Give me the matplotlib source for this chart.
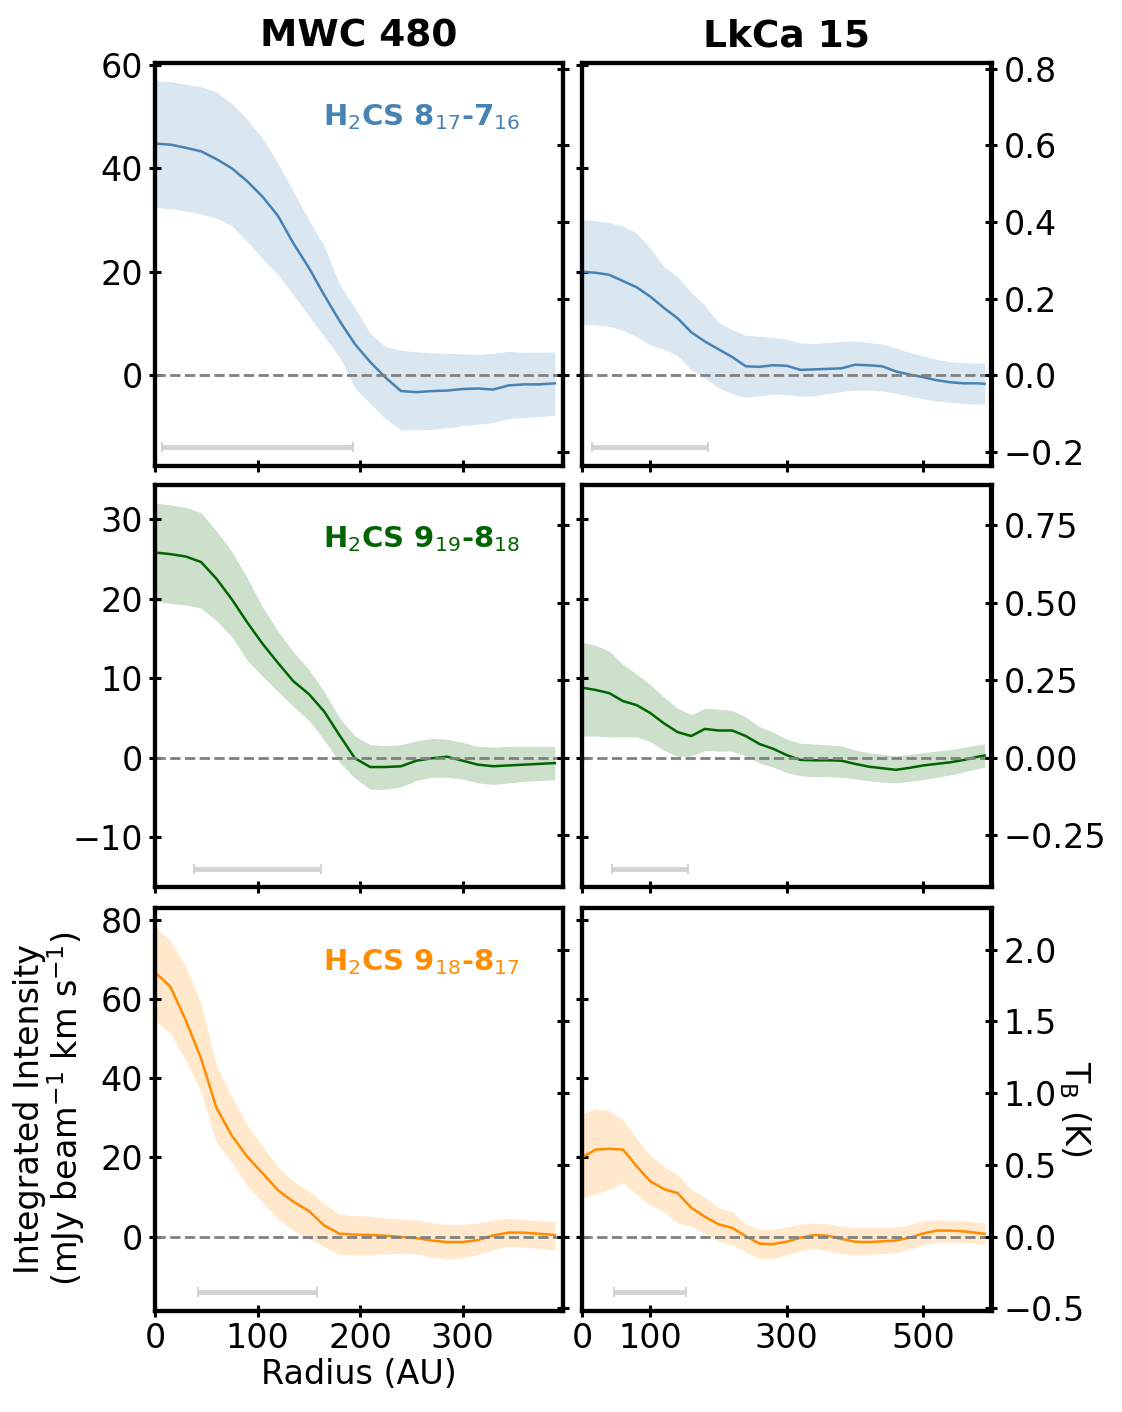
import matplotlib
matplotlib.use('agg')
import matplotlib.pyplot as plt

matplotlib.rc('font', size=24)
matplotlib.rc('xtick', labelsize=24)
matplotlib.rc('ytick', labelsize=24)

# Radius grids (AU)
r_mwc = [0, 15, 30, 45, 60, 75, 90, 105, 120, 135, 150, 165, 180, 195, 210,
         225, 240, 255, 270, 285, 300, 315, 330, 345, 360, 375, 390]
r_lkca = [0, 20, 40, 60, 80, 100, 120, 140, 160, 180, 200, 220, 240, 260, 280,
          300, 320, 340, 360, 380, 400, 420, 440, 460, 480, 500, 520, 540, 560,
          580, 590]

# H2CS 8_17-7_16
mwc_a_mean = [44.8, 44.6, 44.0, 43.3, 41.8, 40.0, 37.5, 34.5, 30.8, 25.5, 20.8, 15.5, 10.5, 6.0,
              2.5, -0.5, -3.1, -3.3, -3.1, -3.0, -2.7, -2.6, -2.8, -2.0, -1.8, -1.8, -1.6]
mwc_a_lo = [32.5, 32.2, 31.8, 31.2, 30.4, 28.9, 25.8, 22.5, 19.5, 15.5, 11.5, 7.5, 3.5, -2.5,
            -5.5, -8.5, -10.6, -10.6, -10.5, -10.2, -9.8, -9.5, -9.2, -8.4, -8.2, -8.0, -7.8]
mwc_a_hi = [57.0, 56.8, 56.3, 55.8, 54.8, 52.5, 49.5, 45.8, 41.0, 35.5, 30.0, 25.0, 17.5, 13.0,
            8.0, 5.5, 4.8, 4.5, 4.3, 4.2, 4.1, 4.0, 4.2, 4.6, 4.4, 4.4, 4.5]
lkca_a_mean = [20.0, 19.8, 19.4, 18.2, 17.0, 15.2, 13.0, 11.0, 8.3, 6.5, 5.0, 3.5, 1.7, 1.6, 1.9,
               1.8, 1.0, 1.1, 1.2, 1.3, 2.0, 1.9, 1.7, 0.7, 0.1, -0.4, -1.0, -1.4, -1.6, -1.6, -1.7]
lkca_a_lo = [9.8, 9.7, 9.4, 8.7, 7.4, 5.8, 5.0, 3.8, 1.0, -0.5, -2.5, -3.6, -4.3, -4.0, -3.7,
             -3.8, -4.1, -4.0, -3.6, -3.2, -2.9, -2.9, -3.1, -3.5, -4.1, -4.6, -5.0, -5.3, -5.5,
             -5.6, -5.6]
lkca_a_hi = [30.1, 29.9, 29.5, 28.8, 27.5, 24.5, 21.0, 19.0, 16.0, 13.5, 10.2, 8.8, 7.7, 7.5, 7.3,
             6.9, 6.2, 6.1, 6.3, 6.5, 6.6, 6.3, 6.0, 5.2, 4.4, 3.7, 3.0, 2.6, 2.4, 2.3, 2.3]

# H2CS 9_19-8_18
mwc_b_mean = [25.8, 25.6, 25.3, 24.6, 22.5, 19.9, 17.0, 14.3, 11.9, 9.6, 8.0, 5.8, 2.8, -0.1,
              -1.2, -1.2, -1.1, -0.4, -0.1, 0.1, -0.4, -0.9, -1.1, -1.0, -0.9, -0.8, -0.7]
mwc_b_lo = [19.7, 19.4, 19.2, 18.8, 17.2, 15.2, 12.2, 10.2, 8.3, 6.4, 4.7, 2.2, -0.6, -2.6,
            -4.0, -4.0, -3.7, -2.9, -2.5, -2.5, -2.7, -3.2, -3.4, -3.2, -3.0, -2.9, -2.8]
mwc_b_hi = [32.0, 31.8, 31.5, 30.8, 28.5, 25.9, 22.6, 18.9, 15.9, 13.3, 11.1, 8.3, 5.0, 2.7,
            1.6, 1.5, 1.6, 2.1, 2.4, 2.3, 1.9, 1.4, 1.3, 1.4, 1.4, 1.4, 1.4]
lkca_b_mean = [8.8, 8.5, 8.1, 7.1, 6.6, 5.6, 4.3, 3.2, 2.7, 3.6, 3.4, 3.4, 2.7, 1.7, 1.1, 0.3,
               -0.3, -0.35, -0.35, -0.4, -0.8, -1.15, -1.35, -1.55, -1.3, -1.0, -0.8, -0.6, -0.3,
               0.1, 0.25]
lkca_b_lo = [2.7, 2.7, 2.6, 2.6, 2.6, 2.0, 0.9, 0.1, 0.2, 0.9, 0.8, 0.8, 0.2, -0.7, -1.2, -1.9,
             -2.3, -2.4, -2.4, -2.5, -2.7, -2.9, -3.1, -3.2, -3.0, -2.8, -2.5, -2.2, -1.8, -1.4,
             -1.2]
lkca_b_hi = [14.5, 14.1, 13.4, 11.7, 10.5, 9.2, 7.6, 6.2, 5.4, 6.2, 6.1, 5.9, 5.1, 3.9, 3.2, 2.3,
             1.8, 1.7, 1.6, 1.45, 0.95, 0.6, 0.4, 0.2, 0.4, 0.6, 0.8, 1.0, 1.3, 1.6, 1.7]

# H2CS 9_18-8_17
mwc_c_mean = [66.8, 63.2, 54.7, 45.0, 32.5, 25.5, 20.2, 16.0, 11.7, 8.8, 6.5, 2.8, 0.7, 0.5,
              0.4, 0.2, -0.1, -0.4, -1.0, -1.4, -1.4, -0.9, 0.3, 1.0, 1.0, 0.7, 0.4]
mwc_c_lo = [54.6, 51.5, 44.5, 36.5, 23.8, 18.8, 12.8, 8.7, 4.5, 1.5, -0.5, -2.6, -4.5, -4.6,
            -4.6, -4.4, -4.2, -4.4, -5.2, -5.7, -5.4, -4.6, -3.2, -2.5, -2.7, -3.0, -3.4]
mwc_c_hi = [78.4, 74.8, 68.2, 58.8, 43.2, 35.2, 28.2, 22.8, 17.5, 14.0, 11.5, 8.3, 5.6, 5.3,
            5.1, 4.7, 4.4, 4.2, 3.5, 3.0, 3.1, 3.4, 4.2, 4.6, 4.3, 4.0, 3.8]
lkca_c_mean = [20.0, 22.0, 22.2, 22.0, 17.8, 14.0, 12.0, 11.0, 7.3, 5.0, 3.1, 2.2, 0.1, -1.8,
               -1.9, -1.3, -0.3, 0.4, 0.2, -0.6, -1.3, -1.4, -1.2, -1.0, -0.3, 0.8, 1.5, 1.5,
               1.3, 0.9, 0.7]
lkca_c_lo = [9.8, 10.7, 11.9, 13.5, 10.7, 8.0, 6.4, 3.4, 2.6, 0.8, -1.2, -2.0, -4.0, -5.6, -5.6,
             -4.6, -3.6, -3.0, -3.6, -4.3, -4.6, -4.5, -4.3, -4.1, -3.2, -2.0, -1.4, -1.4, -1.5,
             -1.8, -1.9]
lkca_c_hi = [31.0, 32.3, 31.8, 29.5, 24.8, 20.5, 17.7, 15.6, 11.9, 10.0, 7.3, 6.3, 3.1, 1.8, 1.8,
             2.4, 3.2, 3.4, 3.2, 2.6, 2.3, 2.3, 2.3, 2.3, 3.0, 4.0, 4.2, 4.1, 3.9, 3.6, 3.4]

# Per-row settings
line_labels = [r'H$_2$CS 8$_{17}$-7$_{16}$', r'H$_2$CS 9$_{19}$-8$_{18}$', r'H$_2$CS 9$_{18}$-8$_{17}$']
colors = ['#4682b4', '#006400', '#ff8c00']
ylims = [(-17.6, 60.4), (-16.3, 34.3), (-18.7, 83.1)]
yticks = [[0, 20, 40, 60], [-10, 0, 10, 20, 30], [0, 20, 40, 60, 80]]
k_factor = [0.0135, 0.02565, 0.02755]  # mJy/beam km/s -> K
k_ticks = [[-0.2, 0.0, 0.2, 0.4, 0.6, 0.8], [-0.25, 0.0, 0.25, 0.5, 0.75],
           [-0.5, 0.0, 0.5, 1.0, 1.5, 2.0]]
k_fmt = ['%.1f', '%.2f', '%.1f']
beam_mwc = [93, 62, 58]  # half-width of beam bar (AU)
beam_lkca = [85, 56, 53]

data = [
    [(mwc_a_mean, mwc_a_lo, mwc_a_hi), (lkca_a_mean, lkca_a_lo, lkca_a_hi)],
    [(mwc_b_mean, mwc_b_lo, mwc_b_hi), (lkca_b_mean, lkca_b_lo, lkca_b_hi)],
    [(mwc_c_mean, mwc_c_lo, mwc_c_hi), (lkca_c_mean, lkca_c_lo, lkca_c_hi)],
]

fig = plt.figure(figsize=(11.22, 14.12), dpi=100)
W, H = 1122., 1412.
col_x = [(155, 563), (582, 991.5)]
row_y = [(63, 466), (485, 887), (908, 1310.5)]

for i in range(3):
    for j in range(2):
        x0, x1 = col_x[j]
        y0, y1 = row_y[i]
        ax = fig.add_axes([x0 / W, 1 - y1 / H, (x1 - x0) / W, (y1 - y0) / H])
        radius = r_mwc if j == 0 else r_lkca
        mean, lo, hi = data[i][j]

        ax.fill_between(radius, lo, hi, color=colors[i], alpha=0.2, lw=0)
        ax.plot(radius, mean, color=colors[i], lw=1.8)
        ax.axhline(0, ls='--', color='gray', lw=2)
        half = beam_mwc[i] if j == 0 else beam_lkca[i]
        ax.errorbar(100, -14, xerr=half, color='lightgray', elinewidth=3.5,
                    capsize=3.5, capthick=1.5, fmt='none')

        if j == 0:
            ax.set_xlim(0, 398)
            ax.set_xticks([0, 100, 200, 300])
        else:
            ax.set_xlim(0, 600)
            ax.set_xticks([0, 100, 300, 500])
        ax.set_ylim(*ylims[i])
        ax.set_yticks(yticks[i])

        for sp in ax.spines.values():
            sp.set_linewidth(3)
        ax.tick_params(direction='inout', length=9, width=2.2, right=False,
                       labelleft=(j == 0), labelbottom=(i == 2), pad=4)

        tw = ax.twinx()
        tw.set_ylim(ylims[i][0] * k_factor[i], ylims[i][1] * k_factor[i])
        tw.set_yticks(k_ticks[i])
        tw.set_yticklabels([k_fmt[i] % v if v >= 0 else '\u2212' + k_fmt[i] % -v
                            for v in k_ticks[i]])
        tw.tick_params(direction='inout', length=9, width=2.2, labelright=(j == 1), pad=4)
        for sp in tw.spines.values():
            sp.set_linewidth(3)

        if j == 0:
            ax.text(0.895, 0.865, line_labels[i], transform=ax.transAxes, color=colors[i],
                    fontsize=21, fontweight='bold', ha='right', va='center')
        if i == 0:
            ax.set_title(['MWC 480', 'LkCa 15'][j], fontsize=27, fontweight='bold', pad=12)
        if i == 2 and j == 0:
            ax.set_xlabel('Radius (AU)', labelpad=2)

fig.text(50 / W, 1 - 1109 / H, 'Integrated Intensity\n(mJy beam$^{-1}$ km s$^{-1}$)',
         rotation=90, ha='center', va='center', multialignment='center', fontsize=24,
         linespacing=1.0)
fig.text(1075 / W, 1 - 1109 / H, r'T$_{\rm B}$ (K)', rotation=270, ha='center', va='center',
         fontsize=24)

plt.savefig('out.png', dpi=100)
plt.close()
